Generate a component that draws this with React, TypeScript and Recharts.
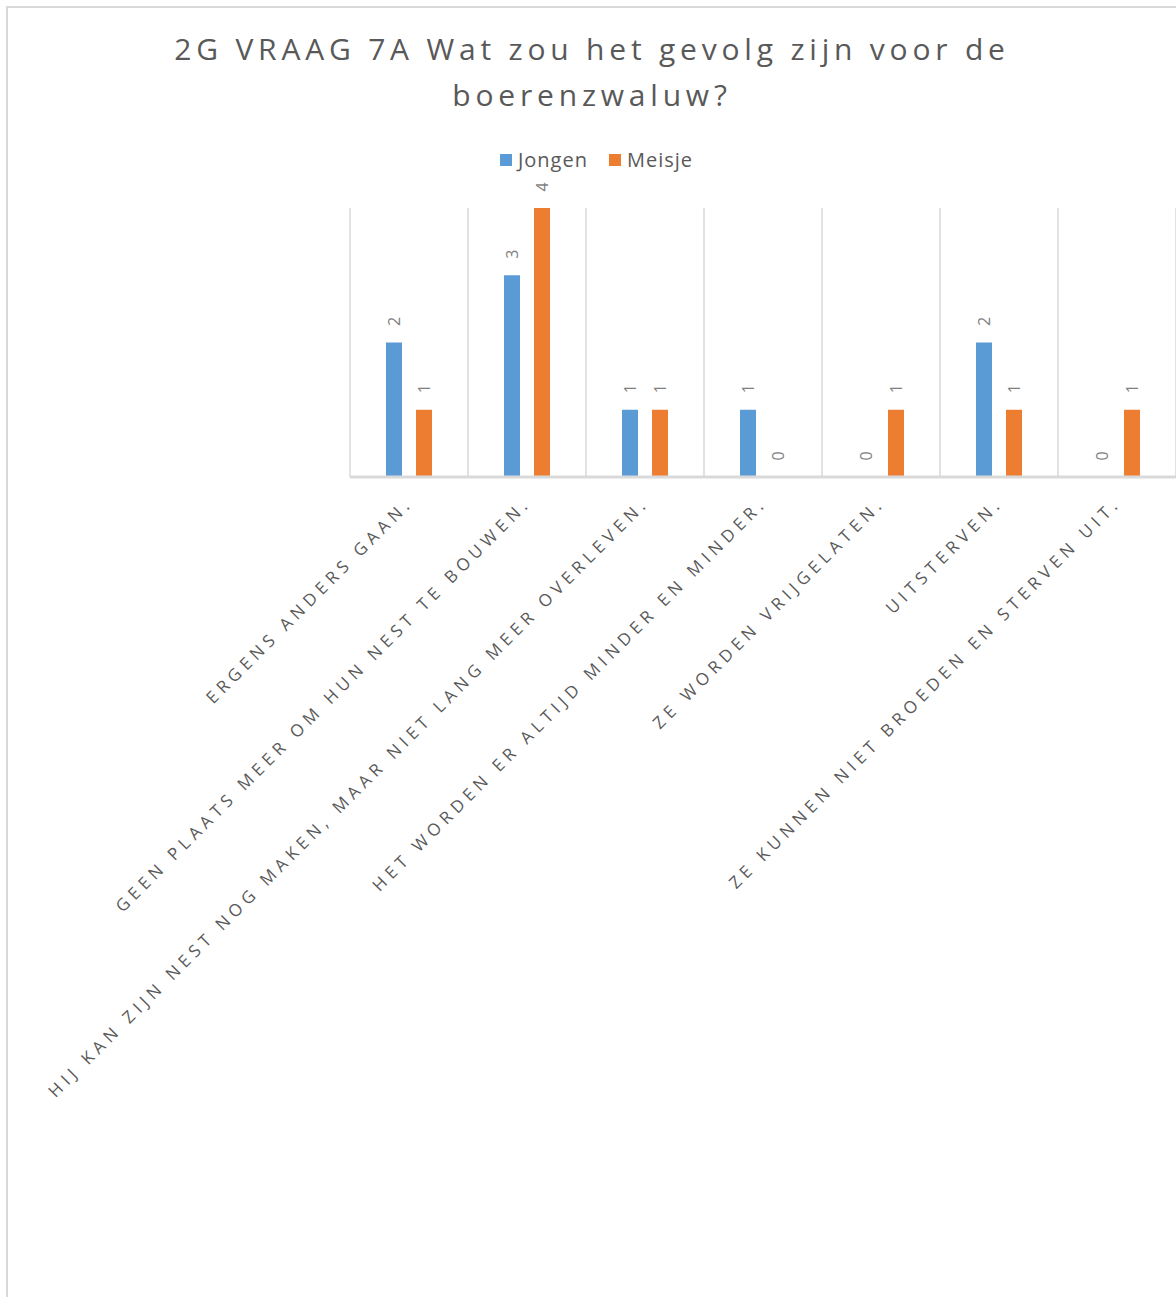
import React from "react";
import {
  BarChart,
  Bar,
  XAxis,
  YAxis,
  CartesianGrid,
  LabelList,
} from "recharts";

const CATEGORIES: string[] = [
  "Ergens anders gaan.",
  "Geen plaats meer om hun nest te bouwen.",
  "Hij kan zijn nest nog maken, maar niet lang meer overleven.",
  "Het worden er altijd minder en minder.",
  "Ze worden vrijgelaten.",
  "Uitsterven.",
  "Ze kunnen niet broeden en sterven uit.",
];

const JONGEN: number[] = [2, 3, 1, 1, 0, 2, 0];
const MEISJE: number[] = [1, 4, 1, 0, 1, 1, 1];

const SERIES = [
  { key: "jongen", name: "Jongen", color: "#5B9BD5" },
  { key: "meisje", name: "Meisje", color: "#ED7D31" },
];

const TITLE_LINES = ["2G VRAAG 7A Wat zou het gevolg zijn voor de", "boerenzwaluw?"];

const data = CATEGORIES.map((name, i) => ({
  name,
  jongen: JONGEN[i],
  meisje: MEISJE[i],
}));

const FONT = "'Open Sans', 'DejaVu Sans', sans-serif";

const ValueLabel = (props: any) => {
  const { x, y, width, value } = props;
  const cx = x + width / 2;
  const cy = y - 21;
  return (
    <text
      x={cx}
      y={cy}
      transform={`rotate(-90, ${cx}, ${cy})`}
      textAnchor="middle"
      dominantBaseline="central"
      fontSize={16}
      fill="#7f7f7f"
      fontFamily={FONT}
    >
      {value}
    </text>
  );
};

const CategoryTick = (props: any) => {
  const { x, y, payload } = props;
  const tx = x + 5;
  const ty = y + 19;
  return (
    <text
      x={tx}
      y={ty}
      transform={`rotate(-45, ${tx}, ${ty})`}
      textAnchor="end"
      fontSize={17}
      letterSpacing={5}
      fill="#595959"
      fontFamily={FONT}
    >
      {String(payload.value).toUpperCase()}
    </text>
  );
};

const App: React.FC = () => {
  const width = 1176;
  const height = 1297;
  return (
    <div
      style={{
        position: "absolute",
        left: 0,
        top: 0,
        width,
        height,
        overflow: "hidden",
        background: "#fff",
      }}
    >
      <div
        style={{
          position: "absolute",
          left: 6,
          top: 6,
          width: 1220,
          height: 1340,
          border: "2px solid #d9d9d9",
        }}
      />
      <div
        style={{
          position: "absolute",
          left: 0,
          top: 26,
          width: 1184,
          textAlign: "center",
          fontFamily: FONT,
          fontSize: 30,
          letterSpacing: 4.8,
          lineHeight: "46px",
          color: "#595959",
        }}
      >
        {TITLE_LINES.map((t) => (
          <div key={t}>{t}</div>
        ))}
      </div>
      <div
        style={{
          position: "absolute",
          left: 0,
          top: 146,
          width: 1193,
          display: "flex",
          justifyContent: "center",
          gap: 21,
          fontFamily: FONT,
        }}
      >
        {SERIES.map((s) => (
          <div key={s.key} style={{ display: "flex", alignItems: "center" }}>
            <span
              style={{
                width: 12,
                height: 12,
                background: s.color,
                display: "inline-block",
                marginRight: 6,
              }}
            />
            <span style={{ fontSize: 20, letterSpacing: 1, color: "#595959" }}>
              {s.name}
            </span>
          </div>
        ))}
      </div>
      <div style={{ position: "absolute", left: 0, top: 0 }}>
        <BarChart
          width={width}
          height={height}
          data={data}
          margin={{ top: 208, right: 0, left: 350, bottom: 20 }}
          barSize={16}
          barGap={14}
        >
          <CartesianGrid
            horizontal={false}
            stroke="#d9d9d9"
            strokeWidth={1.5}
            verticalCoordinatesGenerator={({ offset }: any) =>
              Array.from(
                { length: CATEGORIES.length + 1 },
                (_, i) => offset.left + (i * offset.width) / CATEGORIES.length
              )
            }
          />
          <XAxis
            dataKey="name"
            height={800}
            axisLine={{ stroke: "#d9d9d9", strokeWidth: 3 }}
            tickLine={false}
            interval={0}
            tick={<CategoryTick />}
          />
          <YAxis hide domain={[0, 4]} />
          {SERIES.map((s) => (
            <Bar
              key={s.key}
              dataKey={s.key}
              name={s.name}
              fill={s.color}
              minPointSize={0.01}
              isAnimationActive={false}
            >
              <LabelList dataKey={s.key} content={<ValueLabel />} />
            </Bar>
          ))}
        </BarChart>
      </div>
    </div>
  );
};

export default App;
